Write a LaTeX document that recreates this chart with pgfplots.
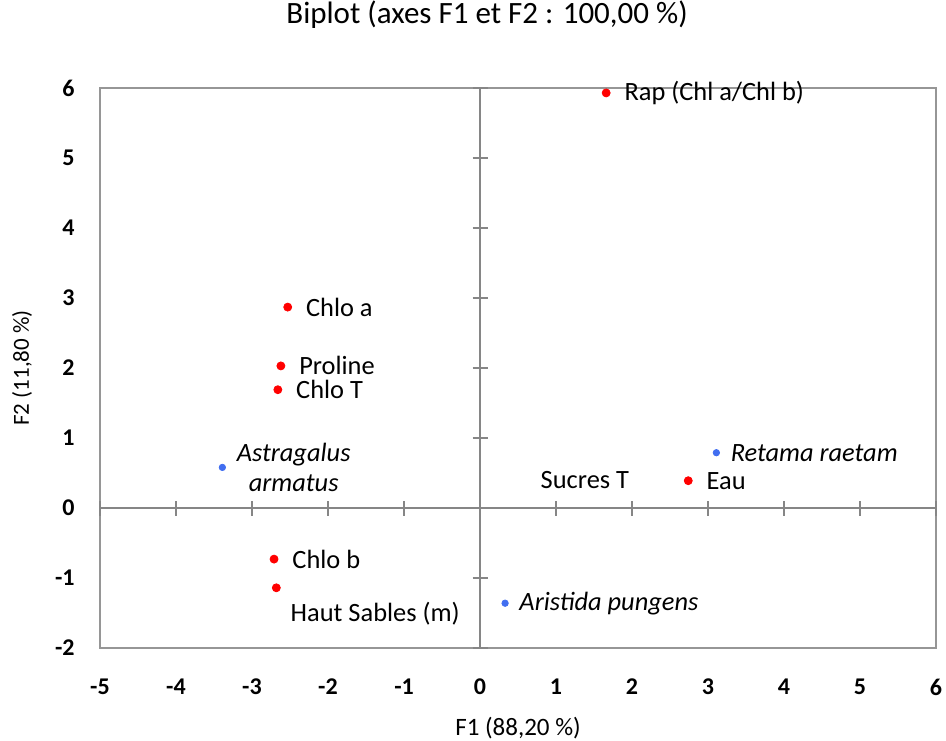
\documentclass[border=0pt]{standalone}
\usepackage{pgfplots}
\pgfplotsset{compat=1.18}
\usepackage{pgfplotstable}
\usepackage{fontspec}
\setmainfont{Carlito}

\definecolor{framegray}{RGB}{150,150,150}
\definecolor{axgray}{RGB}{134,134,134}
\definecolor{varred}{RGB}{255,0,0}
\definecolor{obsblue}{RGB}{65,110,240}
\newcommand\lbl{\fontsize{12}{14}\selectfont}
\newcommand\ptlbl{\fontsize{13.2}{15}\selectfont}

% variables (red)
\pgfplotstableread{
x y label
1.66 5.93 {Rap (Chl a/Chl b)}
-2.53 2.87 {Chlo a}
-2.62 2.03 {Proline}
-2.66 1.69 {Chlo T}
-2.71 -0.73 {Chlo b}
2.74 0.39 {Eau}
}\variables

% observations (blue)
\pgfplotstableread{
x y label
3.11 0.79 {Retama raetam}
0.33 -1.36 {Aristida pungens}
}\observations

\pgfplotsset{
  biplot/.style={width=418pt,height=280pt,scale only axis,
    xmin=-5,xmax=6,ymin=-2,ymax=6,
    xtick={-5,...,6},ytick={-2,...,6}},
  lab/.style={nodes near coords,point meta=explicit symbolic,
    nodes near coords style={anchor=west,text=black,inner sep=0pt,font=\ptlbl}}
}

\begin{document}
\begin{tikzpicture}
\begin{axis}[biplot,
  axis lines=box,axis line style={framegray,line width=1pt},
  major tick length=0pt,tick style={draw=none},
  /pgf/number format/assume math mode=true,
  ticklabel style={font=\lbl\bfseries},
  xticklabel style={anchor=center,inner sep=0pt,yshift=-19.5pt},
  yticklabel style={anchor=east,inner sep=0pt,xshift=-12.5pt},
  title={Biplot (axes F1 et F2 : 100,00 \%)},
  title style={at={(0.463,1.109)},anchor=center,font=\fontsize{15.5}{18}\selectfont},
  xlabel={F1 (88,20 \%)},
  xlabel style={at={(0.5,-0.1429)},anchor=center,font=\fontsize{12.5}{14}\selectfont},
  ylabel={F2 (11,80 \%)},
  ylabel style={at={(-0.0933,0.5)},anchor=center,font=\fontsize{11.5}{13}\selectfont}]
\end{axis}
\begin{axis}[biplot,
  axis lines=middle,axis line style={axgray,line width=0.9pt,-},
  ticklabel style={opacity=0},
  tick style={axgray,line width=0.9pt},major tick length=7.5pt,tick align=center,
  clip=false]
\addplot[only marks,mark=*,mark size=2pt,color=varred,lab,
  every node near coord/.append style={xshift=9pt}]
  table[meta=label] {\variables};
\addplot[only marks,mark=*,mark size=2pt,color=varred,lab,
  every node near coord/.append style={xshift=7pt,yshift=-13pt}]
  coordinates {(-2.68,-1.14) [{Haut Sables (m)}]};
\addplot[draw=none,lab,
  every node near coord/.append style={anchor=center}]
  coordinates {(1.38,0.40) [{Sucres T}]};
\addplot[only marks,mark=*,mark size=1.6pt,color=obsblue,lab,
  every node near coord/.append style={xshift=7pt,font=\ptlbl\itshape}]
  table[meta=label] {\observations};
\addplot[only marks,mark=*,mark size=1.6pt,color=obsblue,lab,
  every node near coord/.append style={xshift=7pt,font=\ptlbl\itshape,align=center}]
  coordinates {(-3.39,0.58) [{Astragalus\\armatus}]};
\end{axis}
\pgfresetboundingbox
\path (-50pt,-46pt) rectangle (423pt,324pt);
\end{tikzpicture}
\end{document}
